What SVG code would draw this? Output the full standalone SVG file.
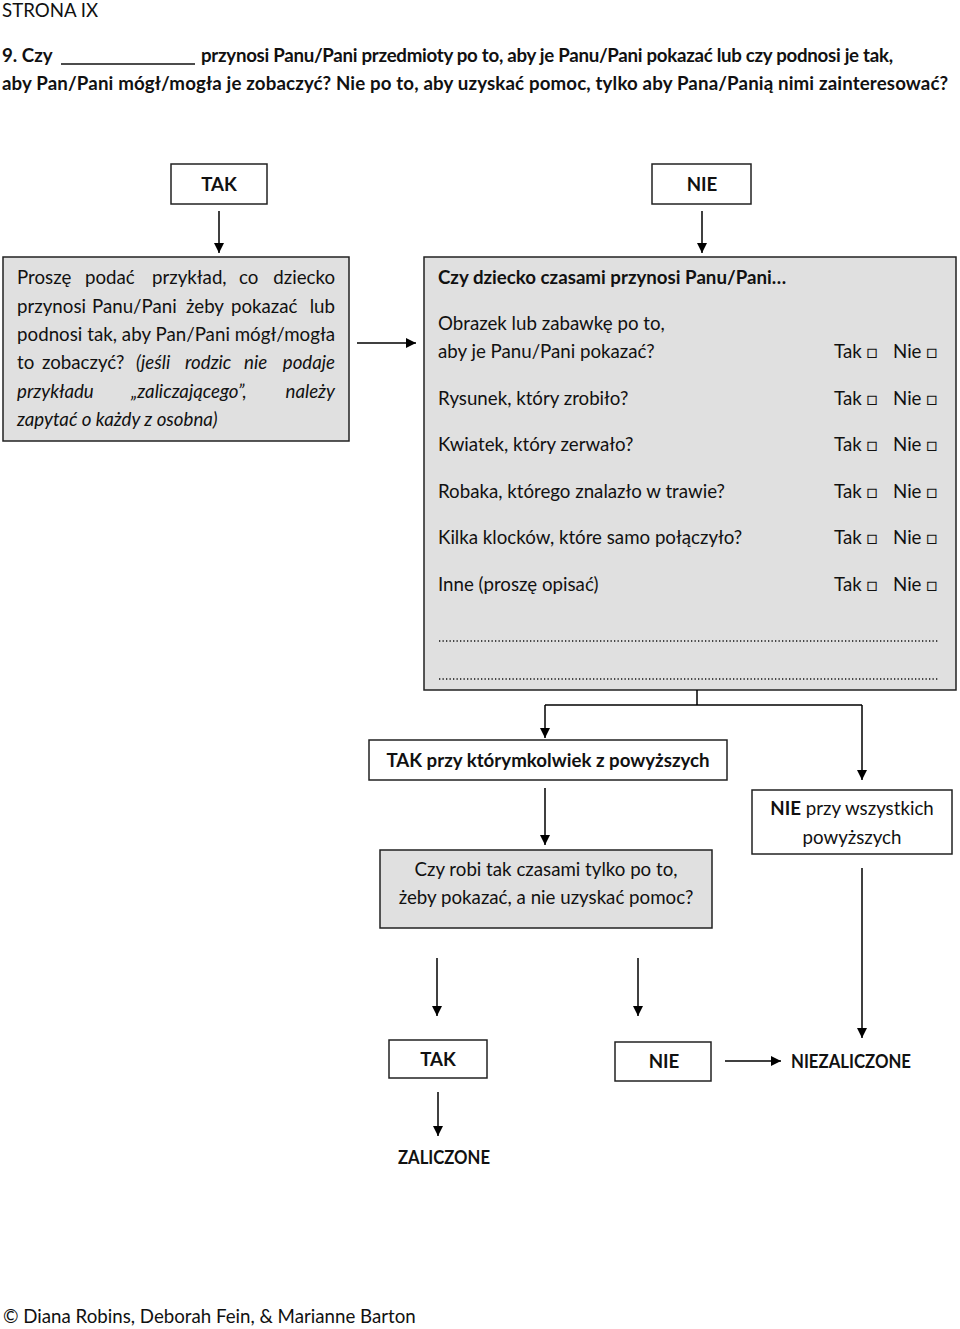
<svg xmlns="http://www.w3.org/2000/svg" width="960" height="1329" viewBox="0 0 960 1329">
<defs>
<marker id="ah" viewBox="0 0 10 10" refX="10" refY="5" markerWidth="11" markerHeight="10" markerUnits="userSpaceOnUse" orient="auto"><path d="M0,0 L10,5 L0,10 Z" fill="#000"/></marker>
<style>
text{font-family:Lato,"Open Sans","DejaVu Sans",sans-serif;font-size:18.7px;fill:#111}
.b{font-weight:bold}
.i{font-style:italic}
.m{text-anchor:middle}
.box{fill:#fff;stroke:#222;stroke-width:1.5}
.gbox{fill:#e0e0e0;stroke:#222;stroke-width:1.5}
.c line,.c path{stroke:#000;stroke-width:1.5;fill:none}
.a{marker-end:url(#ah)}
</style>
</defs>
<rect width="960" height="1329" fill="#fff"/>
<g id="header">
<text x="2" y="17">STRONA IX</text>
<text class="b" x="2" y="62">9. Czy</text>
<text class="b" x="201" y="62" textLength="692" lengthAdjust="spacing">przynosi Panu/Pani przedmioty po to, aby je Panu/Pani pokazać lub czy podnosi je tak,</text>
<line x1="61" y1="64" x2="195" y2="64" stroke="#111" stroke-width="1.5"/>
<text class="b" x="2" y="90" textLength="946" lengthAdjust="spacing">aby Pan/Pani mógł/mogła je zobaczyć? Nie po to, aby uzyskać pomoc, tylko aby Pana/Panią nimi zainteresować?</text>
</g>
<g id="n_tak1"><rect class="box" x="171" y="164" width="96" height="40"/><text class="b m" x="219" y="191">TAK</text></g>
<g id="n_nie1"><rect class="box" x="652" y="164" width="99" height="40"/><text class="b m" x="702" y="191">NIE</text></g>
<g id="n_left"><rect class="gbox" x="3" y="257" width="346" height="184"/>
<text y="284"><tspan x="17">Proszę</tspan><tspan x="85">podać</tspan><tspan x="152">przykład,</tspan><tspan x="239">co</tspan><tspan x="335" text-anchor="end">dziecko</tspan></text>
<text y="313"><tspan x="17">przynosi</tspan><tspan x="92">Panu/Pani</tspan><tspan x="186">żeby</tspan><tspan x="231">pokazać</tspan><tspan x="335" text-anchor="end">lub</tspan></text>
<text y="341" x="17" textLength="318" lengthAdjust="spacing">podnosi tak, aby Pan/Pani mógł/mogła</text>
<text y="369"><tspan x="17">to</tspan><tspan x="42">zobaczyć?</tspan><tspan class="i" x="136">(jeśli</tspan><tspan class="i" x="185">rodzic</tspan><tspan class="i" x="244">nie</tspan><tspan class="i" x="335" text-anchor="end">podaje</tspan></text>
<text y="398" class="i"><tspan x="17">przykładu</tspan><tspan x="131">„zaliczającego”,</tspan><tspan x="335" text-anchor="end">należy</tspan></text>
<text y="426" class="i" x="17">zapytać o każdy z osobna)</text>
</g>
<g id="n_right"><rect class="gbox" x="424" y="257" width="532" height="433"/>
<text class="b" x="438" y="284">Czy dziecko czasami przynosi Panu/Pani…</text>
<text x="438" y="330">Obrazek lub zabawkę po to,</text>
<text x="438" y="358">aby je Panu/Pani pokazać?</text><text x="834" y="358">Tak □</text><text x="893" y="358">Nie □</text>
<text x="438" y="405">Rysunek, który zrobiło?</text><text x="834" y="405">Tak □</text><text x="893" y="405">Nie □</text>
<text x="438" y="451">Kwiatek, który zerwało?</text><text x="834" y="451">Tak □</text><text x="893" y="451">Nie □</text>
<text x="438" y="498">Robaka, którego znalazło w trawie?</text><text x="834" y="498">Tak □</text><text x="893" y="498">Nie □</text>
<text x="438" y="544">Kilka klocków, które samo połączyło?</text><text x="834" y="544">Tak □</text><text x="893" y="544">Nie □</text>
<text x="438" y="591">Inne (proszę opisać)</text><text x="834" y="591">Tak □</text><text x="893" y="591">Nie □</text>
<line x1="439" y1="641" x2="938" y2="641" stroke="#111" stroke-width="1.6" stroke-dasharray="1.3 2.2"/>
<line x1="439" y1="679" x2="938" y2="679" stroke="#111" stroke-width="1.6" stroke-dasharray="1.3 2.2"/>
</g>
<g id="n_takany"><rect class="box" x="369" y="740" width="358" height="40"/><text class="b m" x="548" y="767">TAK przy którymkolwiek z powyższych</text></g>
<g id="n_nieall"><rect class="box" x="752" y="790" width="200" height="64"/><text class="m" x="852" y="815"><tspan class="b">NIE</tspan> przy wszystkich</text><text class="m" x="852" y="844">powyższych</text></g>
<g id="n_czyrobi"><rect class="gbox" x="380" y="850" width="332" height="78"/><text class="m" x="546" y="876">Czy robi tak czasami tylko po to,</text><text class="m" x="546" y="904">żeby pokazać, a nie uzyskać pomoc?</text></g>
<g id="n_tak2"><rect class="box" x="389" y="1040" width="98" height="38"/><text class="b m" x="438" y="1066">TAK</text></g>
<g id="n_nie2"><rect class="box" x="615" y="1042" width="96" height="39"/><text class="b m" x="664" y="1068">NIE</text></g>
<g id="n_niezal"><text class="b" x="791" y="1068" textLength="120" lengthAdjust="spacingAndGlyphs">NIEZALICZONE</text></g>
<g id="n_zal"><text class="b" x="398" y="1164" textLength="92" lengthAdjust="spacingAndGlyphs">ZALICZONE</text></g>
<g id="footer"><text x="3" y="1323">© Diana Robins, Deborah Fein, &amp; Marianne Barton</text></g>
<g id="connectors" class="c">
<line class="a" x1="219" y1="211" x2="219" y2="253"/>
<line class="a" x1="702" y1="211" x2="702" y2="253"/>
<line class="a" x1="357" y1="343" x2="416" y2="343"/>
<line x1="697" y1="690" x2="697" y2="705"/>
<path d="M545,705 L862,705"/>
<line class="a" x1="545" y1="705" x2="545" y2="738"/>
<line class="a" x1="862" y1="705" x2="862" y2="780"/>
<line class="a" x1="545" y1="788" x2="545" y2="845"/>
<line class="a" x1="862" y1="868" x2="862" y2="1038"/>
<line class="a" x1="437" y1="958" x2="437" y2="1016"/>
<line class="a" x1="638" y1="958" x2="638" y2="1016"/>
<line class="a" x1="725" y1="1061" x2="781" y2="1061"/>
<line class="a" x1="438" y1="1092" x2="438" y2="1136"/>
</g>
</svg>
